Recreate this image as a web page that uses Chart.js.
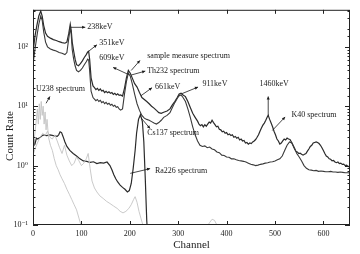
<!DOCTYPE html>
<html>
<head>
<meta charset="utf-8">
<script src="https://cdn.jsdelivr.net/npm/chart.js@4"></script>
<style>
html,body{margin:0;padding:0;background:#fff;}
#wrap{width:360px;height:254px;position:relative;}
</style>
</head>
<body>
<div id="wrap"><canvas id="c" width="360" height="254"></canvas></div>
<script>
// ---- data (channel, count rate) ----
const sampleCh  = [0,4,8,12,16,19,22,26,30,36,42,48,54,60,66,70,74,77,79,81,84,87,90,94,98,102,106,110,113,115,117,120,124,127,130,133,136,139,142,145,148,151,154,157,160,163,166,169,172,175,178,181,185,189,193,197,201,205,210,215,220,225,230,235,240,245,250,255,260,265,270,277,283,288,293,298,302,306,310,315,320,325,330,335,340,343,346,349,352,355,358,361,364,367,370,373,376,379,382,385,388,391,394,397,400,403,406,409,412,415,418,421,424,427,430,433,436,439,442,445,448,451,454,457,460,463,466,469,472,475,478,481,484,486,489,492,495,498,501,504,507,510,513,516,519,522,525,528,531,534,537,540,543,546,549,552,555,558,561,564,567,570,573,576,579,582,585,588,591,594,597,600,603,606,609,612,615,618,621,624,627,630,633,636,639,642,645,648,651,655];
const sampleVal = [80,150,230,330,400,330,230,170,150,140,132,128,122,118,115,120,170,240,190,120,85,62,50,48,52,58,66,74,82,84,62,30,22,20.5,19,20,18.5,19.5,18,18.5,17,17.8,16.8,17.5,16.5,17,15.8,16.5,15.5,16.2,15.2,15.5,14.8,20,30,40,36,30,24,21,17,14,13,12,11,10,9.3,8.5,7.8,7.6,7.9,8.3,9,10.5,12,14,16,16.5,15.5,14.5,12,9.5,7.6,6.5,5.6,5.0,4.7,4.9,4.5,4.9,4.6,5.0,5.4,5.2,5.8,5.3,4.9,4.5,4.6,4.1,4.0,3.7,3.8,3.5,3.6,3.3,3.4,3.2,3.3,3.0,3.1,2.9,3.0,2.7,2.8,2.6,2.65,2.4,2.45,2.3,2.4,2.35,2.5,2.6,2.75,3.0,3.3,3.8,4.3,4.8,5.2,5.8,6.6,7.0,6.0,5.2,4.5,3.8,3.3,2.8,2.6,2.3,2.4,2.6,2.8,2.7,2.9,2.8,2.75,2.5,2.2,1.95,1.75,1.7,1.6,1.62,1.55,1.5,1.55,1.6,1.75,1.9,2.1,2.2,2.4,2.45,2.5,2.45,2.35,2.2,2.0,1.8,1.6,1.45,1.4,1.3,1.28,1.2,1.22,1.15,1.12,1.15,1.08,1.1,1.05,1.06,1.0,1.02,0.97,0.95];

const th232Ch  = [0,4,8,12,16,19,22,26,30,36,42,48,54,60,66,70,74,77,79,81,84,87,90,94,98,102,106,110,113,115,117,120,124,127,130,133,136,139,142,145,148,151,154,157,160,163,166,169,172,175,178,181,185,189,193,197,201,205,210,215,220,225,230,235,240,245,250,255,260,265,270,277,283,288,293,298,302,306,310,315,320,325,330,335,340,345,350,355,360,365,370,375,380,385,390,395,400,405,410,415,420,425,430,435,440,445,450,455,460,465,470,475,480,485,490,495,500,505,510,515,520,525,530,535,540,545,550,555,560,565,570,575,580,585,590,595,600,605,610,615,620,625,630,635,640,645,650,655];
const th232Val = [50,90,150,240,330,280,180,120,100,92,88,85,80,78,74,80,140,210,160,90,62,48,40,38,40,44,50,56,62,60,40,18,14,13.2,12.4,13,12,12.6,11.5,12,11,11.6,10.8,11.2,10.4,10.8,10,10.4,9.6,9.8,9,8.6,9,16,26,36,32,24,16,11,8.5,7,6.3,6,5.8,5.5,5.2,5.0,5.3,5.8,6.5,7.0,7.8,9.5,11.5,13.5,15,15.5,14,12,9,6.5,4.5,3.3,2.6,2.2,2.1,2.15,2.0,2.05,1.9,1.85,1.7,1.65,1.5,1.48,1.4,1.38,1.3,1.3,1.25,1.22,1.2,1.18,1.15,1.1,1.05,1.03,1.0,1.02,1.05,1.07,1.1,1.12,1.15,1.16,1.2,1.25,1.3,1.45,1.8,2.2,2.5,2.4,2.0,1.6,1.4,1.2,1.0,0.9,0.85,0.84,0.82,0.83,0.8,0.81,0.8,0.79,0.79,0.8,0.78,0.78,0.77,0.78,0.77,0.76,0.76,0.75];

const cs137Ch  = [0,2,4,7,10,15,21,28,35,42,50,53,56,59,62,66,70,76,83,90,97,104,111,118,125,132,139,146,153,159,163,167,171,175,180,185,190,195,199,203,207,211,214,218,222,226,229,232,235,238];
const cs137Val = [2.8,2.2,2.3,2.9,2.8,3.0,3.3,3.2,3.3,3.2,3.1,3.3,3.7,3.6,3.1,2.5,2.1,1.8,1.6,1.45,1.3,1.2,1.18,1.13,1.16,1.08,1.12,1.1,1.15,1.0,0.85,0.7,0.6,0.53,0.47,0.43,0.4,0.36,0.38,0.5,0.9,1.8,3.5,6.0,7.2,5.5,2.5,0.6,0.12,0.05];

const u238Ch  = [0,3,6,9,11,13,15,17,19,21,23,25,27,29,32,36,40,44,48,52,56,60,65,70,75,80,85,90,95,99,103];
const u238Val = [1.5,3,5,9,5,11,6,12,7,10,5,8,4,6,3,2.2,1.8,1.3,1.0,0.85,0.7,0.6,0.5,0.4,0.33,0.27,0.22,0.18,0.13,0.1,0.07];

const ra226Ch  = [0,5,10,15,20,25,30,35,40,45,50,55,60,65,70,75,80,85,90,95,100,105,110,114,118,122,127,132,138,145,152,159,166,174,180,186,192,198,203,208,211,215,219,223,227,231,355,360,365,370,375,380,385];
const ra226Val = [1.5,2.0,2.5,3.0,3.5,3.2,3.8,3.0,2.8,3.3,2.6,2.0,1.6,2.2,1.5,1.2,1.0,1.1,1.4,1.2,1.0,1.1,1.3,1.6,0.9,0.55,0.42,0.36,0.31,0.28,0.25,0.23,0.21,0.19,0.17,0.16,0.17,0.19,0.22,0.27,0.3,0.24,0.17,0.13,0.1,0.08,0.08,0.095,0.11,0.125,0.12,0.1,0.08];

const xTicks = [0,100,200,300,400,500,600];
const yTickLabels = {"0.1":"10\u207B\u00B9","1":"10\u2070","10":"10\u00B9","100":"10\u00B2"};

// annotations: text position and arrow (from -> to) in data coordinates
const notes = [
  {text:"238keV", tx:112, ty:213, a:[78,213,108,213]},
  {text:"351keV", tx:137, ty:116, a:[114,83,132,108]},
  {text:"609keV", tx:137, ty:66,  a:[194.5,35,165.5,45]},
  {text:"sample measure spectrum", tx:236, ty:69, a:[203,40,221,59]},
  {text:"Th232 spectrum", tx:236, ty:39, a:[203,33.5,232,39]},
  {text:"661keV", tx:252, ty:21, a:[223,15,246,20.5]},
  {text:"911keV", tx:350, ty:23.8, a:[308,16.3,341,21]},
  {text:"1460keV", tx:468, ty:23.8, a:[486,6.9,486,14.6]},
  {text:"K40 spectrum", tx:534, ty:7.1, a:[494.5,3.9,521,6.6]},
  {text:"U238 spectrum", tx:6, ty:19.7, a:[27,11.2,35,14.6]},
  {text:"Cs137 spectrum", tx:236, ty:3.6, a:[223,6.4,242,4.2]},
  {text:"Ra226 spectrum", tx:252, ty:0.83, a:[201,0.74,242,0.89]}
];

const toXY = (xs, ys) => xs.map((x,i)=>({x:x, y:ys[i]}));

const DARK = '#2b2b2b', GRAY = '#c4c4c4';
const SERIF = '"Liberation Serif", "DejaVu Serif", serif';

const framePlugin = {
  id:'frame',
  afterDatasetsDraw(chart){
    const ctx = chart.ctx, a = chart.chartArea;
    const xs = chart.scales.x, ys = chart.scales.y;
    ctx.save();
    ctx.strokeStyle = '#222'; ctx.lineWidth = 1;
    ctx.strokeRect(a.left+0.5, a.top+0.5, a.right-a.left-1, a.bottom-a.top-1);
    ctx.beginPath();
    xs.ticks.forEach(t=>{
      const px = Math.round(xs.getPixelForValue(t.value))+0.5;
      ctx.moveTo(px, a.bottom); ctx.lineTo(px, a.bottom-4);
      ctx.moveTo(px, a.top); ctx.lineTo(px, a.top+4);
    });
    ys.ticks.forEach(t=>{
      const py = Math.round(ys.getPixelForValue(t.value))+0.5;
      const lg = Math.log10(t.value);
      const len = Math.abs(lg-Math.round(lg))<1e-6 ? 5 : 2.5;
      ctx.moveTo(a.left, py); ctx.lineTo(a.left+len, py);
      ctx.moveTo(a.right, py); ctx.lineTo(a.right-len, py);
    });
    ctx.stroke();
    // annotations
    ctx.fillStyle = '#1a1a1a'; ctx.strokeStyle = '#1a1a1a';
    ctx.font = '8px ' + SERIF;
    ctx.textBaseline = 'middle'; ctx.textAlign = 'left';
    notes.forEach(n=>{
      ctx.fillText(n.text, xs.getPixelForValue(n.tx), ys.getPixelForValue(n.ty));
      const x0 = xs.getPixelForValue(n.a[0]), y0 = ys.getPixelForValue(n.a[1]);
      const x1 = xs.getPixelForValue(n.a[2]), y1 = ys.getPixelForValue(n.a[3]);
      ctx.lineWidth = 0.8;
      ctx.beginPath(); ctx.moveTo(x0,y0); ctx.lineTo(x1,y1); ctx.stroke();
      const ang = Math.atan2(y1-y0, x1-x0), h = 3.5;
      ctx.beginPath();
      ctx.moveTo(x1,y1);
      ctx.lineTo(x1 - h*Math.cos(ang-0.45), y1 - h*Math.sin(ang-0.45));
      ctx.lineTo(x1 - h*Math.cos(ang+0.45), y1 - h*Math.sin(ang+0.45));
      ctx.closePath(); ctx.fill();
    });
    // y axis title
    ctx.font = '11px ' + SERIF;
    ctx.textAlign = 'center';
    ctx.translate(10, 136); ctx.rotate(-Math.PI/2);
    ctx.fillText('Count Rate', 0, 0);
    ctx.restore();
  }
};

new Chart(document.getElementById('c'), {
  type:'line',
  data:{
    datasets:[
      {label:'U238 spectrum', data:toXY(u238Ch,u238Val), borderColor:GRAY, borderWidth:0.9},
      {label:'Ra226 spectrum', data:toXY(ra226Ch,ra226Val), borderColor:GRAY, borderWidth:0.9},
      {label:'Cs137 spectrum', data:toXY(cs137Ch,cs137Val), borderColor:DARK, borderWidth:1.2},
      {label:'Th232 spectrum', data:toXY(th232Ch,th232Val), borderColor:'#3a3a3a', borderWidth:1.1},
      {label:'sample measure spectrum', data:toXY(sampleCh,sampleVal), borderColor:DARK, borderWidth:1.2}
    ]
  },
  options:{
    responsive:false, animation:false, devicePixelRatio:1,
    layout:{padding:{top:4,right:10,left:0,bottom:0}},
    elements:{point:{radius:0}, line:{tension:0}},
    plugins:{legend:{display:false}, tooltip:{enabled:false}},
    scales:{
      x:{type:'linear', min:0, max:655,
         afterFit(s){ s.height = 29; },
         afterBuildTicks(s){ s.ticks = xTicks.map(v=>({value:v})); },
         ticks:{font:{family:SERIF,size:8}, color:'#222', padding:4, includeBounds:false, maxRotation:0},
         grid:{display:false, drawTicks:false}, border:{display:false},
         title:{display:true, text:'Channel', font:{family:SERIF,size:11}, color:'#222', padding:{top:0,bottom:2}}
      },
      y:{type:'logarithmic', min:0.1, max:420,
         afterFit(s){ s.width = 33; },
         ticks:{font:{family:SERIF,size:8}, color:'#222', padding:5, autoSkip:false,
                callback:(v)=> yTickLabels[String(v)] || ''},
         grid:{display:false, drawTicks:false}, border:{display:false}
      }
    }
  },
  plugins:[framePlugin]
});
</script>
</body>
</html>
